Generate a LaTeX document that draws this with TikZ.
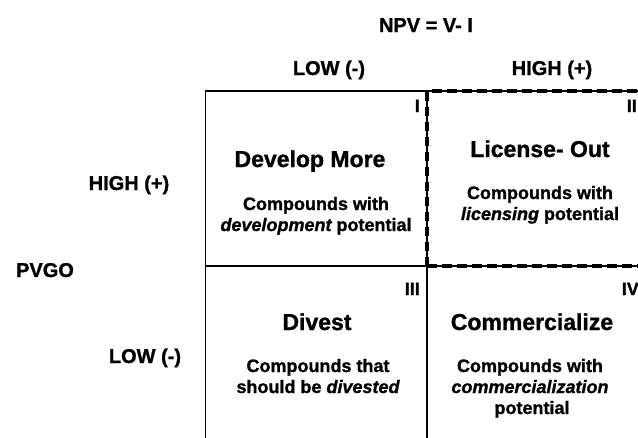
\documentclass[tikz,border=0pt]{standalone}
\usepackage{fontspec}
\setmainfont{Liberation Sans}[BoldFeatures={FakeBold=1.2},BoldItalicFeatures={FakeBold=1.2}]
\begin{document}
\begin{tikzpicture}[x=1pt,y=-1pt,
  txt/.style={inner sep=0pt,anchor=base,font=\bfseries\fontsize{#1}{#1}\selectfont},
  txt/.default=18,
  axis/.style={txt=20},
  title/.style={txt=23},
  numeral/.style={inner sep=0pt,anchor=base east,font=\bfseries\fontsize{18}{18}\selectfont},
  grid line/.style={line width=1.1pt,black},
  hilite/.style={line width=3.8pt,black,dash pattern=on 9.5pt off 5.5pt}]
\useasboundingbox (0,0) rectangle (638,437);
\clip (0,0) rectangle (638,437);

% quadrant frame
\coordinate (tl) at (205.5,91);
\coordinate (tm) at (427,91);
\coordinate (tr) at (660,91);
\coordinate (ml) at (205.5,266);
\coordinate (mm) at (427,266);
\coordinate (mr) at (660,266);
\coordinate (bl) at (205.5,450);
\coordinate (bm) at (427,450);
\draw[grid line] (bl) -- (tl) -- (tr);
\draw[grid line] (ml) -- (mr);
\draw[grid line] (tm) -- (bm);

% highlighted quadrant II
\draw[hilite] (mm) -- (tm) -- (tr);
\draw[hilite] (mm) -- (mr);

% axis labels
\node[axis] (npv) at (426,32) {NPV = V- I};
\node[axis] (xlow) at (329,75) {LOW (-)};
\node[axis] (xhigh) at (552,75) {HIGH (+)};
\node[axis] (yhigh) at (129,190) {HIGH (+)};
\node[axis] (pvgo) at (45,277) {PVGO};
\node[axis] (ylow) at (145,363) {LOW (-)};

% quadrant numbers
\node[numeral] (n1) at (420,112) {I};
\node[numeral] (n2) at (637,112) {II};
\node[numeral] (n3) at (420,295) {III};
\node[numeral] (n4) at (639,295) {IV};

% quadrant I
\node[title] (q1t) at (310,167) {Develop More};
\node[txt] (q1a) at (316,210) {Compounds with};
\node[txt] (q1b) at (316,231) {\itshape development\upshape{} potential};

% quadrant II
\node[title] (q2t) at (540,157) {License- Out};
\node[txt] (q2a) at (540,199) {Compounds with};
\node[txt] (q2b) at (540,220) {\itshape licensing\upshape{} potential};

% quadrant III
\node[title] (q3t) at (317,330) {Divest};
\node[txt] (q3a) at (318,372) {Compounds that};
\node[txt] (q3b) at (318,393) {should be \itshape divested};

% quadrant IV
\node[title] (q4t) at (532,330) {Commercialize};
\node[txt] (q4a) at (530,372) {Compounds with};
\node[txt] (q4b) at (530,393) {\itshape commercialization};
\node[txt] (q4c) at (532,414) {potential};
\end{tikzpicture}
\end{document}
